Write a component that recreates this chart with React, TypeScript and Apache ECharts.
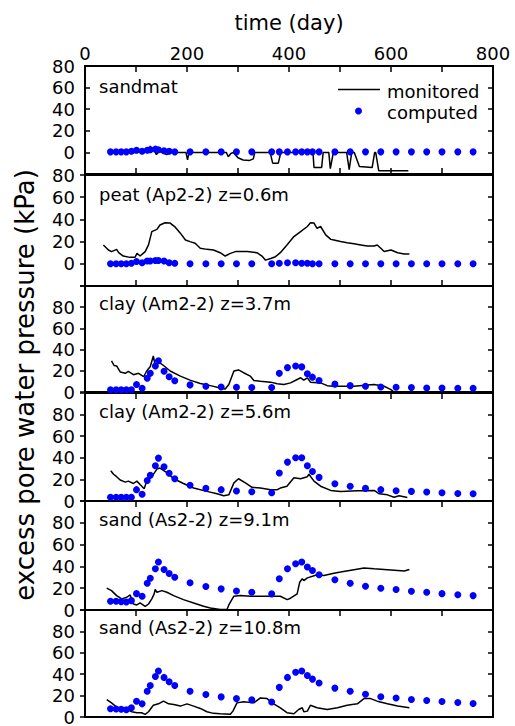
import React, { useEffect, useRef } from "react";
import * as echarts from "echarts";

// ---- data ----
const xTickValues = [0, 200, 400, 600, 800];
const panelLabels = [
  "sandmat",
  "peat (Ap2-2) z=0.6m",
  "clay (Am2-2) z=3.7m",
  "clay (Am2-2) z=5.6m",
  "sand (As2-2) z=9.1m",
  "sand (As2-2) z=10.8m",
];
const legendNames = ["monitored", "computed"];

const compT = [50, 61, 71, 81, 91, 101, 112, 122, 128, 138, 144, 155, 165, 176, 206, 237, 267, 297, 327, 366, 381, 397, 413, 425, 436, 446, 459, 490, 520, 550, 580, 610, 640, 670, 700, 731, 761];

const compSandmat = [0.5, 0.5, 0.5, 0.5, 1, 2, 1, 2, 2.5, 3, 2.5, 1.5, 1, 0.5, 0.5, 0.5, 0.5, 0.5, 0.5, 0.5, 0.5, 0.5, 0.5, 0.5, 0.5, 0.5, 0.5, 0.5, 0.5, 0.5, 0.5, 0.5, 0.5, 0.5, 0.5, 0.5, 0.5];
const compPeat = [0, 0, 0, 0, 0.5, 2, 1, 2.5, 2.5, 3, 3, 2.5, 1, 0.5, 0, 0, 0, 0, 0, 0, 0.5, 1, 1, 0.5, 0.5, 0, 0, 0, 0, 0, 0, 0, 0, 0, 0, 0, 0];
const compClay37 = [2.2, 2.2, 2.2, 2.2, 2.2, 7, 3.5, 13, 17.6, 24.6, 29.4, 19.5, 14.4, 10.6, 6.7, 5.4, 4.8, 4.5, 4.2, 4.2, 17.6, 23, 24.6, 23.7, 17.3, 14, 10.9, 7.4, 6, 5.4, 4.8, 4.5, 4.2, 3.8, 3.8, 3.5, 3.5];
const compClay56 = [3.5, 3.5, 3.5, 3.5, 3.5, 10.5, 6.3, 19, 23.8, 32.7, 39.7, 31.7, 25.7, 20.6, 14.6, 11.7, 10.5, 9.2, 8.6, 7.6, 26, 36, 40, 40, 32.7, 27.3, 21.9, 16, 13.7, 11.7, 10.5, 9.5, 8.9, 8.3, 7.6, 7, 6.7];
const compSand91 = [8, 8, 7.7, 7.4, 8.6, 15, 12.6, 24.6, 29.2, 37.8, 44, 37.2, 33.5, 30, 25, 21.5, 19.4, 17.5, 16.3, 14.8, 28.6, 37.8, 42.5, 44, 39.4, 36.3, 32.3, 27.7, 24.6, 21.8, 20, 18.8, 17.2, 16.3, 15, 14, 13.2];
const compSand108 = [7.7, 7.5, 7.3, 6.8, 8.6, 14.8, 12.3, 24, 29.5, 37.8, 43, 37, 33, 29.5, 24, 21, 18.8, 17.2, 16, 14, 27.7, 37, 41.8, 43, 38.8, 35.4, 31.7, 27, 24, 21.2, 19, 17.8, 16.3, 15.4, 14.5, 13.5, 12.6];

// monitored: [time, kPa]
const monSandmat = [
  [50, 0], [100, 0], [120, 1], [126, 3], [128, 6], [131, 2], [134, 4], [137, 1], [140, -2], [145, 1], [150, 0], [160, -2], [170, 0],
  [198, 0], [201, -7], [204, 0], [277, 0], [281, -4], [286, -1], [291, 0], [300, -5], [310, -7], [323, -7.4], [330, -6], [333, 0],
  [363, 0], [368, -10], [379, -10], [384, 0], [447, 0], [449, -14], [464, -14], [467, 0], [478, 0], [481, -15], [487, 0],
  [513, 0], [518, -16], [523, 0], [528, 0], [538, -13], [563, -14], [568, 0], [570, 0], [576, -17], [634, -17],
];
const monPeat = [
  [36, 17], [46, 12.4], [52, 11], [62, 13], [66, 10], [75, 7], [88, 5.8], [98, 5.8], [102, 9.4], [108, 7], [118, 11], [124.5, 17],
  [131, 29], [141, 31], [147, 35], [157, 37], [167, 36.7], [177, 33], [187, 27.6], [197, 21.5], [206, 20], [216, 18.5], [226, 14],
  [239, 13], [252, 12.4], [265, 10], [275, 7], [285, 9.4], [295, 11], [318, 11], [337, 10], [347, 7], [354, 3.3], [364, 4.8],
  [373.5, 6.4], [383, 10], [396, 17], [409.6, 24.5], [422.7, 29], [436, 33.6], [442, 37], [449, 36.7], [455, 32], [462, 33.6],
  [472, 26], [482, 22], [488, 21.5], [501, 20], [514, 19], [527.5, 18], [540.6, 17], [553.7, 16], [567, 16], [573, 17], [580, 14],
  [586.5, 11], [600, 12.4], [613, 10], [626, 8.8], [636, 8.8],
];
const monClay37 = [
  [52, 29.4], [57, 25], [62, 24.6], [69, 18.9], [79, 17.6], [85, 19.5], [95, 16.3], [105, 17.6], [115, 14.4], [121, 19.8], [128, 24],
  [134, 34], [138, 24], [144, 28.5], [154, 25], [167, 19.8], [187, 15], [206, 11.2], [226, 8], [246, 6], [265, 3.8], [275, 2.9],
  [282, 7], [292, 19.8], [301, 20.8], [311, 18.2], [324, 15], [331, 10.9], [344, 10.2], [364, 9.3], [377, 7.7], [390, 7],
  [403, 8.6], [416, 11.8], [423, 13.4], [429, 11.2], [436, 13.4], [442, 9.3], [462, 8.6], [475, 6], [488, 5.4], [501, 5.4],
  [527.5, 5.4], [554, 6.7], [567, 7], [586.5, 5.4], [600, 2.2], [606, 0],
];
const monClay56 = [
  [50.5, 28], [56, 24.8], [62, 22.5], [69, 19.4], [79, 17.5], [85, 18.4], [95, 16.2], [101.6, 18.4], [108, 15.2], [116, 11.4],
  [121, 18.4], [131, 22.5], [141, 29.5], [147, 30.5], [160.5, 26.3], [174, 20.6], [193, 16.2], [213, 12], [239, 8.9], [259, 6.7],
  [272, 4.8], [282, 5.7], [292, 16.8], [301, 20.6], [314.5, 16.8], [327.6, 12.7], [344, 12], [364, 10.5], [377, 10.5], [383, 12],
  [396, 13.7], [409.6, 21.6], [422.7, 20.6], [436, 22.5], [439, 24.8], [449, 18.4], [462, 13.7], [481.6, 9.8], [501, 8.9],
  [534, 9.5], [567, 9.8], [577, 6.7], [593, 5.7], [606, 3.5], [616, 4.8], [632, 3.2],
];
const monSand91 = [
  [42.6, 20], [52, 17.8], [62, 13.2], [72, 10.2], [82, 11.7], [88.5, 13.8], [95, 5.5], [101.6, 4.6], [108, 6.5], [118, 3.4],
  [124.5, 5.5], [131, 10.2], [135.6, 14.8], [137.6, 18.8], [141, 16.3], [150.7, 17.8], [160.5, 16.3], [173.7, 13.2], [193, 9.5],
  [213, 6.5], [232.6, 3.4], [245.7, 1.8], [265, 0.5], [278.5, 0.5], [282, 4.6], [291.6, 12.6], [304.7, 13.2], [324.4, 12.6],
  [344, 12.6], [363.7, 12.6], [383, 12.6], [396.5, 9.5], [403, 10.8], [416, 14.8], [421, 25.5], [426, 28.6], [429, 27], [436, 29.5],
  [455.4, 32.3], [468.5, 31.7], [488, 33.8], [501, 34.8], [527.5, 37], [547, 38.5], [567, 37.8], [593, 37], [613, 36.3],
  [626, 35.7], [636, 37.2],
];
const monSand108 = [
  [42.6, 16.3], [52, 13.2], [62, 9.2], [72, 8], [82, 7], [92, 4.9], [101.6, 4], [111, 4], [118, 2.5], [124.5, 4.9], [134, 11],
  [144, 12.3], [154, 14.8], [164, 12.3], [174, 11.7], [187, 10.2], [200, 12.3], [213, 10.2], [226, 8], [239, 4.9], [252, 3.4],
  [265, 3], [285, 2.5], [290, 5.5], [298, 13.2], [311, 14.2], [331, 13.2], [344, 17.8], [357, 17.2], [370, 12.3], [383, 8.6],
  [396, 4], [409.6, 3], [419, 7], [426, 8.6], [429, 4.9], [436, 5.5], [442, 11], [455, 8.6], [475, 7], [495, 8.6], [514, 11],
  [534, 12.3], [547, 17.2], [560, 17.2], [573, 14.8], [593, 12.3], [613, 10.2], [636, 8.6],
];

const computedSets = [compSandmat, compPeat, compClay37, compClay56, compSand91, compSand108];
const monitoredSets = [monSandmat, monPeat, monClay37, monClay56, monSand91, monSand108];
const yRanges = [[-20, 80], [-20, 80], [0, 100], [0, 100], [0, 100], [0, 100]];

// ---- layout ----
const FONT = "DejaVu Sans";
const LEFT = 85;
const PLOT_W = 408;
const layout = [
  { top: 66, height: 108, labelY: 88, topTicks: true, bottomTicks: true, leftInside: true },
  { top: 175, height: 111, labelY: 196, topTicks: false, bottomTicks: true, leftInside: false },
  { top: 286, height: 106, labelY: 305, topTicks: false, bottomTicks: false, leftInside: false },
  { top: 393, height: 108, labelY: 413, topTicks: true, bottomTicks: false, leftInside: false },
  { top: 501, height: 109, labelY: 521, topTicks: true, bottomTicks: false, leftInside: false },
  { top: 610, height: 109, labelY: 629, topTicks: true, bottomTicks: false, leftInside: false },
];

function buildOption() {
  const grid: any[] = [];
  const xAxis: any[] = [];
  const yAxis: any[] = [];
  const series: any[] = [];
  const graphic: any[] = [];
  const tickStyle = { color: "#000", width: 1.5 };

  layout.forEach((L, i) => {
    grid.push({
      left: LEFT, width: PLOT_W, top: L.top, height: L.height,
      show: true, borderColor: "#000", borderWidth: 2, backgroundColor: "transparent",
    });
    xAxis.push({
      type: "value", gridIndex: i, position: "top", min: 0, max: 800, interval: 100,
      axisLine: { show: false, onZero: false }, splitLine: { show: false },
      axisTick: { show: L.topTicks, inside: true, length: 6, lineStyle: tickStyle },
      axisLabel: {
        show: i === 0, color: "#000", fontSize: 18, fontFamily: FONT, margin: 4,
        formatter: (v: number) => (xTickValues.indexOf(v) >= 0 ? String(v) : ""),
      },
    });
    xAxis.push({
      type: "value", gridIndex: i, position: "bottom", min: 0, max: 800, interval: 100,
      axisLine: { show: false, onZero: false }, splitLine: { show: false },
      axisTick: { show: L.bottomTicks, inside: true, length: 6, lineStyle: tickStyle },
      axisLabel: { show: false },
    });
    const [ymin, ymax] = yRanges[i];
    yAxis.push({
      type: "value", gridIndex: i, position: "left", min: ymin, max: ymax, interval: 20,
      axisLine: { show: false, onZero: false }, splitLine: { show: false },
      axisTick: { show: true, inside: L.leftInside, length: 5, lineStyle: tickStyle },
      axisLabel: {
        color: "#000", fontSize: 18, fontFamily: FONT, margin: 10,
        formatter: (v: number) => (v < 0 || v > 80 ? "" : String(v)),
      },
    });
    yAxis.push({
      type: "value", gridIndex: i, position: "right", min: ymin, max: ymax, interval: 20,
      axisLine: { show: false, onZero: false }, splitLine: { show: false },
      axisTick: { show: true, inside: true, length: 5, lineStyle: tickStyle },
      axisLabel: { show: false },
    });
    series.push({
      type: "line", name: legendNames[0], xAxisIndex: 2 * i, yAxisIndex: 2 * i,
      data: monitoredSets[i], showSymbol: false, symbol: "none",
      lineStyle: { color: "#000", width: 1.5 }, silent: true, z: 2,
    });
    series.push({
      type: "scatter", name: legendNames[1], xAxisIndex: 2 * i, yAxisIndex: 2 * i,
      data: compT.map((t, k) => [t, computedSets[i][k]]),
      symbol: "circle", symbolSize: 7, itemStyle: { color: "#0000ff", opacity: 1 }, silent: true, z: 3,
    });
    graphic.push({
      type: "text", left: 99, top: L.labelY - 11,
      style: { text: panelLabels[i], fontSize: 18, fontFamily: FONT, fill: "#000" },
    });
  });

  // titles
  graphic.push({
    type: "text", x: LEFT + PLOT_W / 2, y: 23,
    style: { text: "time (day)", fontSize: 21, fontFamily: FONT, fill: "#000", align: "center", verticalAlign: "middle" },
  });
  graphic.push({
    type: "text", x: 25, y: 385, rotation: Math.PI / 2,
    style: { text: "excess pore water pressure (kPa)", fontSize: 26, fontFamily: FONT, fill: "#000", align: "center", verticalAlign: "middle" },
  });
  // legend
  graphic.push({ type: "line", shape: { x1: 338, y1: 89.5, x2: 380, y2: 89.5 }, style: { stroke: "#000", lineWidth: 1.5 } });
  graphic.push({
    type: "text", x: 387, y: 91,
    style: { text: legendNames[0], fontSize: 18, fontFamily: FONT, fill: "#000", verticalAlign: "middle" },
  });
  graphic.push({ type: "circle", shape: { cx: 358.5, cy: 111, r: 3.5 }, style: { fill: "#0000ff" } });
  graphic.push({
    type: "text", x: 387, y: 112,
    style: { text: legendNames[1], fontSize: 18, fontFamily: FONT, fill: "#000", verticalAlign: "middle" },
  });

  return { animation: false, backgroundColor: "#fff", grid, xAxis, yAxis, series, graphic };
}

export default function App() {
  const ref = useRef<HTMLDivElement>(null);
  useEffect(() => {
    if (!ref.current) return;
    const chart = echarts.init(ref.current, undefined, { renderer: "svg" });
    chart.setOption(buildOption());
    return () => chart.dispose();
  }, []);
  return <div ref={ref} style={{ position: "fixed", left: 0, top: 0, width: 515, height: 726 }} />;
}
